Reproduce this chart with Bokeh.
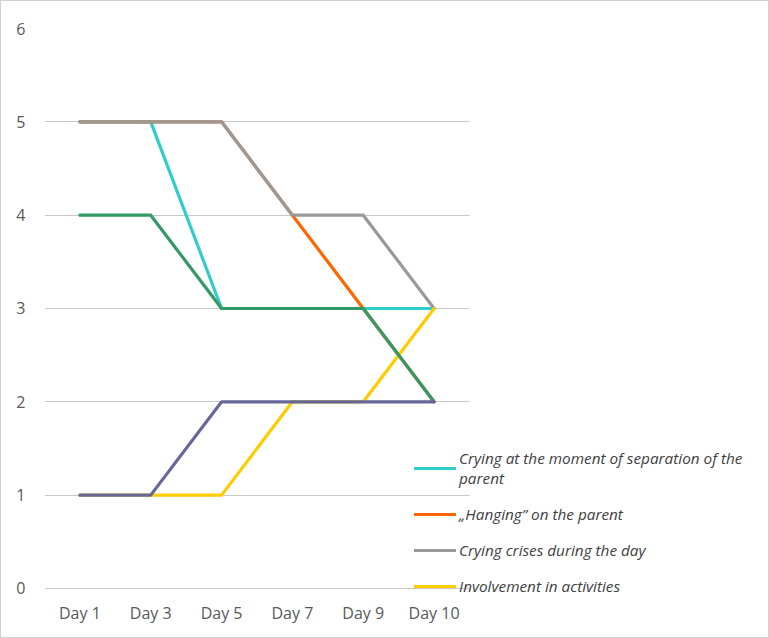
from bokeh.plotting import figure
from bokeh.models import Range1d, Legend, LegendItem, SingleIntervalTicker, FixedTicker
from bokeh.embed import file_html
from bokeh.resources import INLINE

days = ["Day 1", "Day 3", "Day 5", "Day 7", "Day 9", "Day 10"]

crying_separation = [5, 5, 3, 3, 3, 3]
hanging = [5, 5, 5, 4, 3, 2]
crying_crises = [5, 5, 5, 4, 4, 3]
involvement = [1, 1, 1, 2, 2, 3]
series5 = [4, 4, 3, 3, 3, 2]
series6 = [1, 1, 2, 2, 2, 2]

names = [
    "Crying at the moment of separation of the\nparent",
    "\u201eHanging\u201d on the parent",
    "Crying crises during the day",
    "Involvement in activities",
    None,
    None,
]
colors = ["#33CCCC", "#FF6600", "#999999", "#FFCC00", "#339966", "#666699"]
values = [crying_separation, hanging, crying_crises, involvement, series5, series6]

xs = list(range(len(days)))
n = len(days)

# frame spans 43..765 px; the category part spans 43..468 (425 px for 6 categories)
px_per_cat = 425 / n
x_end = -0.5 + 722 / px_per_cat
p = figure(
    width=769, height=638,
    x_range=Range1d(-0.5, x_end),
    y_range=Range1d(-0.118, 6),
    output_backend="svg", toolbar_location=None,
    min_border_left=43, min_border_right=4, min_border_top=27, min_border_bottom=40,
)
p.outline_line_color = None
p.styles = {"border": "1px solid #d0d0d0"}

p.xgrid.grid_line_color = None
p.ygrid.grid_line_color = "#c8c8c8"
p.ygrid.grid_line_width = 1
p.ygrid.cross_bounds = (-0.5, n - 0.5)

p.yaxis.ticker = SingleIntervalTicker(interval=1)
p.xaxis.ticker = FixedTicker(ticks=xs)
p.xaxis.major_label_overrides = {i: d for i, d in zip(xs, days)}
for ax in (p.xaxis, p.yaxis):
    ax.axis_line_color = None
    ax.major_tick_line_color = None
    ax.minor_tick_line_color = None
    ax.major_tick_out = 0
    ax.major_tick_in = 0
    ax.minor_tick_out = 0
    ax.major_label_text_font = "Open Sans"
    ax.major_label_text_font_size = "16px"
    ax.major_label_text_color = "#595959"
p.yaxis.major_label_standoff = 19
p.xaxis.major_label_standoff = 2

items = []
for name, col, vals in zip(names, colors, values):
    r = p.line(xs, vals, line_color=col, line_width=3.2,
               line_cap="round", line_join="round")
    if name is not None:
        items.append(LegendItem(label=name, renderers=[r]))

legend = Legend(
    items=items, location=(370, 3),
    label_text_font="Open Sans", label_text_font_style="italic",
    label_text_font_size="15.3px", label_text_color="#404040",
    glyph_width=42, glyph_height=20, label_height=20, label_standoff=3,
    spacing=16, padding=0, margin=0,
    border_line_color=None, background_fill_alpha=0,
)
p.add_layout(legend, "center")

open("out.html", "w").write(file_html(p, INLINE))
